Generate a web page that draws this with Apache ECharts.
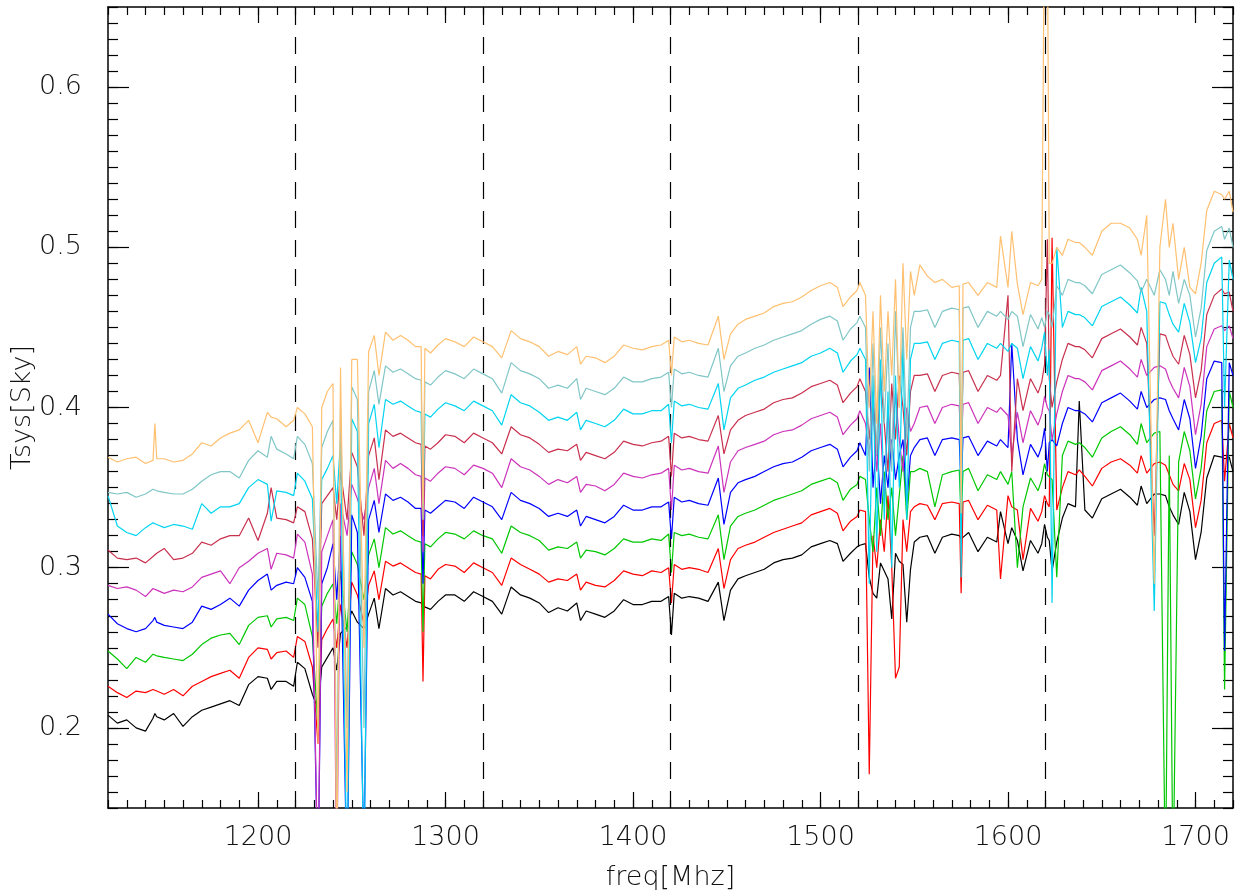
<!DOCTYPE html>
<html>
<head>
<meta charset="utf-8">
<script src="https://cdn.jsdelivr.net/npm/echarts@6/dist/echarts.min.js"></script>
<style>
html,body{margin:0;padding:0;background:#fff;}
#chart{width:1244px;height:896px;}
</style>
</head>
<body>
<div id="chart"></div>
<script>
// Frequency grid (MHz)
const freq = [
 1120,1125,1130,1135,1140,1144,1145,1146,1150,1155,1160,1165,1170,1175,1180,1185,1190,1195,1200,1205,1207,1210,1215,1219,1221,1225,1229,
 1232,1234,1237,1240,1242,1244,1247.5,1250,1253,1256.5,1259,1262,1264.5,
 1268,1272,1276,1280,1284,1287,1288,1289,1292,1296,1300,1305,1310,1315,1320,1325,1330,1335,1340,1345,1350,1355,1360,1365,1370,1372,1375,1380,1385,1390,1395,1400,1405,1410,1415,1419,
 1420.5,1422,1426,1430,1435,1440,1445.5,1448.5,1452,1456,1460,1465,1470,1475,1480,1485,1490,1495,1500,1505,1509,1512,1516,1519.5,1521,
 1524,1526,1528,1530,1532,1534,1536,1538,1540,1542,1544,1546,1548,1550,1553,1557,1561,1565,1570,1574,1575,1576,1579,1584,1589,1594,1596,
 1600,1602,1605,1608,1612,1616,1618,1619.5,1621,1622,1623.5,1626,1629,1632,1636,1638,1641,1645,1650,1655,1660,1665,1669,1671,1674,
 1678,1681,1684,1686,1688,1691,1694,1697,1700,1703,1706,1710,1714,1715.5,1718,1720
];

const black = [
 0.208,0.203,0.205,0.200,0.198,0.206,0.209,0.207,0.205,0.209,0.201,0.207,0.211,0.213,0.215,0.217,0.214,0.227,0.232,0.231,0.224,0.229,0.229,0.226,0.241,0.237,0.221,
 0.212,0.238,0.244,0.250,0.236,0.259,0.263,0.273,0.266,0.262,0.271,0.281,0.262,
 0.287,0.283,0.285,0.282,0.279,0.278,0.276,0.276,0.274,0.279,0.283,0.283,0.279,0.285,0.282,0.279,0.271,0.288,0.283,0.281,0.278,0.272,0.275,0.273,0.278,0.267,0.273,0.271,0.269,0.273,0.280,0.277,0.277,0.279,0.279,0.282,
 0.258,0.284,0.281,0.282,0.281,0.279,0.291,0.267,0.286,0.293,0.295,0.297,0.299,0.303,0.305,0.306,0.308,0.313,0.315,0.317,0.315,0.304,0.309,0.313,0.314,
 0.315,0.294,0.284,0.281,0.303,0.298,0.293,0.268,0.309,0.304,0.302,0.266,0.299,0.316,0.319,0.320,0.309,0.319,0.321,0.320,0.318,0.319,0.322,0.310,0.319,0.316,0.335,
 0.315,0.325,0.317,0.298,0.317,0.309,0.315,0.327,0.319,0.317,0.298,0.316,0.331,0.340,0.338,0.404,0.336,0.331,0.343,0.346,0.349,0.344,0.339,0.351,0.340,
 0.346,0.346,0.345,0.338,0.333,0.327,0.347,0.335,0.305,0.322,0.356,0.370,0.369,0.368,0.369,0.360
];
const red = [
 0.226,0.222,0.219,0.223,0.222,0.224,0.225,0.223,0.221,0.224,0.220,0.226,0.229,0.232,0.234,0.236,0.231,0.244,0.250,0.249,0.243,0.247,0.248,0.244,0.257,0.254,0.238,
 0.190,0.255,0.262,0.268,0.250,0.277,0.250,0.291,0.283,0.265,0.289,0.298,0.280,
 0.304,0.301,0.303,0.300,0.297,0.296,0.229,0.295,0.293,0.299,0.302,0.301,0.297,0.303,0.300,0.297,0.289,0.306,0.302,0.299,0.296,0.291,0.293,0.292,0.296,0.286,0.291,0.289,0.288,0.292,0.298,0.296,0.295,0.298,0.297,0.300,
 0.278,0.302,0.299,0.300,0.299,0.297,0.312,0.287,0.305,0.312,0.314,0.316,0.319,0.322,0.324,0.326,0.328,0.333,0.335,0.337,0.334,0.323,0.329,0.332,0.336,
 0.335,0.171,0.320,0.300,0.330,0.310,0.345,0.300,0.231,0.238,0.330,0.310,0.335,0.338,0.340,0.339,0.330,0.340,0.341,0.340,0.284,0.341,0.342,0.330,0.339,0.336,0.293,
 0.345,0.338,0.336,0.305,0.337,0.329,0.335,0.345,0.340,0.338,0.506,0.336,0.350,0.360,0.358,0.361,0.357,0.351,0.362,0.366,0.368,0.364,0.359,0.370,0.359,
 0.365,0.366,0.364,0.358,0.352,0.348,0.365,0.355,0.325,0.342,0.378,0.390,0.392,0.354,0.390,0.381
];
const green = [
 0.248,0.243,0.237,0.244,0.241,0.246,0.247,0.245,0.244,0.243,0.242,0.246,0.252,0.256,0.258,0.259,0.252,0.264,0.269,0.270,0.263,0.268,0.269,0.267,0.281,0.277,0.257,
 0.200,0.276,0.284,0.290,0.265,0.298,0.260,0.310,0.302,0.280,0.308,0.318,0.300,
 0.325,0.321,0.323,0.320,0.317,0.316,0.260,0.315,0.313,0.318,0.322,0.321,0.318,0.323,0.320,0.318,0.309,0.326,0.322,0.320,0.317,0.311,0.313,0.312,0.316,0.306,0.311,0.310,0.308,0.312,0.318,0.316,0.316,0.318,0.317,0.321,
 0.297,0.322,0.320,0.321,0.319,0.318,0.333,0.305,0.326,0.332,0.334,0.336,0.339,0.342,0.344,0.346,0.348,0.352,0.354,0.356,0.353,0.342,0.349,0.352,0.357,
 0.355,0.330,0.310,0.350,0.320,0.360,0.330,0.350,0.320,0.345,0.370,0.330,0.360,0.360,0.362,0.360,0.338,0.358,0.360,0.361,0.330,0.360,0.362,0.348,0.358,0.355,0.360,
 0.352,0.360,0.300,0.338,0.356,0.348,0.355,0.365,0.358,0.357,0.355,0.294,0.370,0.379,0.377,0.378,0.375,0.369,0.381,0.385,0.388,0.383,0.377,0.390,0.378,
 0.384,0.385,0.100,0.370,0.100,0.366,0.385,0.373,0.343,0.362,0.398,0.410,0.411,0.224,0.410,0.400
];
const blue = [
 0.271,0.265,0.262,0.260,0.262,0.267,0.269,0.266,0.264,0.263,0.262,0.266,0.276,0.274,0.277,0.281,0.276,0.286,0.292,0.296,0.286,0.289,0.291,0.290,0.300,0.294,0.279,
 0.100,0.290,0.300,0.315,0.280,0.320,0.100,0.333,0.322,0.120,0.330,0.342,0.322,
 0.346,0.342,0.344,0.341,0.337,0.337,0.290,0.336,0.334,0.338,0.342,0.341,0.337,0.344,0.341,0.338,0.330,0.347,0.342,0.340,0.337,0.332,0.334,0.332,0.336,0.326,0.332,0.330,0.328,0.332,0.339,0.336,0.336,0.338,0.338,0.341,
 0.318,0.344,0.341,0.342,0.340,0.339,0.356,0.327,0.347,0.353,0.355,0.357,0.360,0.363,0.365,0.366,0.369,0.373,0.375,0.377,0.374,0.363,0.369,0.373,0.378,
 0.370,0.425,0.350,0.380,0.340,0.370,0.350,0.380,0.355,0.370,0.380,0.340,0.370,0.375,0.380,0.381,0.370,0.380,0.381,0.380,0.350,0.381,0.382,0.370,0.379,0.376,0.380,
 0.375,0.440,0.380,0.358,0.377,0.369,0.376,0.387,0.360,0.378,0.380,0.376,0.390,0.400,0.398,0.398,0.396,0.391,0.403,0.406,0.409,0.404,0.399,0.410,0.400,
 0.405,0.406,0.405,0.398,0.393,0.386,0.405,0.393,0.362,0.382,0.418,0.429,0.428,0.248,0.428,0.420
];
const magenta = [
 0.289,0.287,0.288,0.286,0.282,0.287,0.288,0.286,0.284,0.286,0.285,0.288,0.294,0.296,0.298,0.290,0.300,0.304,0.309,0.312,0.299,0.309,0.308,0.306,0.321,0.316,0.296,
 0.100,0.310,0.320,0.330,0.100,0.340,0.320,0.352,0.343,0.330,0.350,0.362,0.340,
 0.367,0.362,0.365,0.362,0.358,0.357,0.310,0.356,0.354,0.359,0.363,0.362,0.358,0.364,0.362,0.359,0.350,0.368,0.363,0.361,0.357,0.352,0.355,0.353,0.357,0.347,0.352,0.351,0.348,0.352,0.359,0.357,0.356,0.358,0.359,0.362,
 0.336,0.364,0.361,0.362,0.360,0.359,0.376,0.347,0.366,0.373,0.375,0.377,0.379,0.383,0.385,0.386,0.389,0.393,0.395,0.397,0.394,0.383,0.389,0.393,0.398,
 0.390,0.370,0.400,0.360,0.390,0.340,0.400,0.370,0.410,0.380,0.360,0.400,0.385,0.390,0.400,0.401,0.390,0.400,0.402,0.401,0.370,0.402,0.403,0.390,0.400,0.397,0.400,
 0.395,0.370,0.397,0.378,0.398,0.389,0.396,0.407,0.400,0.398,0.380,0.396,0.410,0.420,0.418,0.418,0.416,0.411,0.423,0.426,0.429,0.424,0.419,0.430,0.420,
 0.425,0.426,0.424,0.417,0.412,0.406,0.425,0.413,0.383,0.402,0.438,0.449,0.451,0.448,0.451,0.443
];
const crimson = [
 0.311,0.306,0.305,0.306,0.303,0.307,0.308,0.309,0.312,0.305,0.306,0.309,0.316,0.314,0.318,0.320,0.320,0.331,0.317,0.334,0.350,0.331,0.330,0.328,0.338,0.335,0.318,
 0.250,0.340,0.345,0.350,0.330,0.360,0.330,0.372,0.363,0.320,0.370,0.381,0.355,
 0.386,0.382,0.384,0.381,0.378,0.377,0.320,0.376,0.374,0.378,0.383,0.382,0.378,0.384,0.381,0.378,0.371,0.388,0.383,0.381,0.377,0.372,0.374,0.373,0.377,0.367,0.372,0.370,0.368,0.372,0.379,0.377,0.376,0.378,0.379,0.382,
 0.357,0.384,0.381,0.382,0.380,0.379,0.395,0.371,0.386,0.392,0.395,0.397,0.399,0.403,0.405,0.406,0.409,0.413,0.415,0.417,0.414,0.403,0.409,0.413,0.418,
 0.410,0.380,0.410,0.370,0.420,0.390,0.360,0.415,0.380,0.420,0.400,0.370,0.410,0.420,0.420,0.421,0.410,0.420,0.422,0.421,0.370,0.422,0.423,0.410,0.420,0.417,0.420,
 0.470,0.360,0.418,0.398,0.418,0.409,0.416,0.427,0.505,0.418,0.400,0.416,0.430,0.440,0.438,0.438,0.436,0.431,0.443,0.446,0.449,0.444,0.439,0.450,0.440,
 0.320,0.446,0.445,0.438,0.432,0.427,0.445,0.433,0.406,0.423,0.458,0.470,0.474,0.471,0.472,0.460
];
const cyan = [
 0.345,0.326,0.322,0.320,0.325,0.328,0.329,0.327,0.325,0.327,0.326,0.324,0.340,0.334,0.338,0.338,0.340,0.350,0.355,0.352,0.329,0.348,0.347,0.345,0.359,0.354,0.343,
 0.260,0.355,0.362,0.370,0.340,0.380,0.100,0.393,0.385,0.100,0.390,0.402,0.375,
 0.405,0.402,0.404,0.401,0.398,0.397,0.330,0.396,0.394,0.399,0.403,0.401,0.398,0.404,0.401,0.398,0.389,0.408,0.403,0.401,0.397,0.392,0.394,0.392,0.397,0.386,0.392,0.390,0.388,0.392,0.399,0.396,0.396,0.398,0.398,0.402,
 0.378,0.404,0.401,0.402,0.400,0.399,0.415,0.386,0.406,0.412,0.414,0.417,0.419,0.422,0.424,0.426,0.428,0.432,0.434,0.437,0.434,0.422,0.429,0.433,0.437,
 0.430,0.290,0.420,0.310,0.430,0.330,0.410,0.300,0.420,0.350,0.440,0.330,0.430,0.440,0.440,0.441,0.430,0.440,0.442,0.441,0.294,0.442,0.443,0.430,0.440,0.437,0.440,
 0.435,0.440,0.437,0.418,0.438,0.429,0.437,0.447,0.420,0.436,0.278,0.500,0.450,0.460,0.458,0.458,0.456,0.451,0.463,0.466,0.469,0.464,0.459,0.475,0.460,
 0.273,0.466,0.465,0.458,0.452,0.447,0.465,0.453,0.428,0.443,0.478,0.490,0.494,0.400,0.492,0.480
];
const teal = [
 0.347,0.346,0.347,0.344,0.346,0.349,0.350,0.348,0.347,0.346,0.346,0.349,0.354,0.358,0.360,0.360,0.356,0.367,0.373,0.369,0.382,0.374,0.371,0.368,0.382,0.377,0.365,
 0.280,0.375,0.385,0.392,0.150,0.400,0.200,0.413,0.405,0.200,0.410,0.423,0.402,
 0.426,0.422,0.424,0.421,0.418,0.417,0.340,0.416,0.414,0.419,0.423,0.421,0.418,0.424,0.421,0.418,0.409,0.428,0.423,0.421,0.418,0.412,0.414,0.412,0.418,0.405,0.412,0.410,0.408,0.412,0.419,0.416,0.416,0.418,0.419,0.422,
 0.400,0.424,0.421,0.422,0.420,0.419,0.437,0.410,0.426,0.432,0.434,0.437,0.439,0.442,0.444,0.446,0.448,0.452,0.455,0.457,0.454,0.442,0.449,0.453,0.457,
 0.450,0.360,0.440,0.370,0.450,0.390,0.440,0.360,0.460,0.400,0.450,0.380,0.450,0.460,0.460,0.461,0.450,0.460,0.462,0.461,0.350,0.462,0.463,0.450,0.460,0.457,0.460,
 0.455,0.460,0.457,0.438,0.458,0.449,0.456,0.450,0.460,0.458,0.450,0.476,0.470,0.480,0.478,0.478,0.476,0.471,0.483,0.486,0.489,0.484,0.479,0.472,0.480,
 0.470,0.486,0.480,0.470,0.485,0.465,0.480,0.470,0.444,0.462,0.498,0.510,0.513,0.505,0.512,0.500
];
const orange = [
 0.369,0.366,0.368,0.369,0.365,0.367,0.390,0.368,0.368,0.366,0.367,0.371,0.378,0.376,0.381,0.384,0.386,0.392,0.378,0.397,0.394,0.393,0.388,0.392,0.400,0.396,0.388,
 0.190,0.400,0.410,0.415,0.100,0.425,0.160,0.430,0.430,0.250,0.435,0.445,0.420,
 0.447,0.442,0.445,0.442,0.438,0.438,0.330,0.437,0.434,0.439,0.443,0.441,0.438,0.444,0.441,0.438,0.431,0.448,0.443,0.441,0.438,0.432,0.435,0.433,0.438,0.427,0.432,0.431,0.428,0.432,0.439,0.437,0.436,0.438,0.439,0.442,
 0.420,0.444,0.441,0.442,0.440,0.439,0.457,0.430,0.446,0.452,0.455,0.457,0.459,0.463,0.465,0.466,0.469,0.473,0.476,0.478,0.475,0.463,0.469,0.473,0.478,
 0.470,0.400,0.460,0.390,0.470,0.410,0.460,0.420,0.480,0.400,0.490,0.430,0.485,0.470,0.489,0.482,0.478,0.480,0.475,0.476,0.334,0.477,0.478,0.470,0.478,0.475,0.507,
 0.475,0.510,0.477,0.458,0.478,0.476,0.480,0.720,0.700,0.490,0.490,0.500,0.495,0.505,0.503,0.503,0.500,0.495,0.510,0.515,0.515,0.512,0.505,0.495,0.520,
 0.290,0.500,0.530,0.500,0.515,0.480,0.500,0.475,0.471,0.490,0.523,0.535,0.533,0.530,0.535,0.522
];

const dashedFreqs = [1220, 1320, 1420, 1520, 1620];
const xMajor = [1200, 1300, 1400, 1500, 1600, 1700];
const yMajor = [0.2, 0.3, 0.4, 0.5, 0.6];

const seriesList = [
  [black, '#000000'], [red, '#ff0000'], [green, '#00c800'], [blue, '#0000ff'],
  [magenta, '#cc33bb'], [crimson, '#c8304e'], [cyan, '#00d4f0'], [teal, '#80c6c6'], [orange, '#ffc070']
];

const FONT = 'DejaVu Sans';
const txt = {fontFamily: FONT, fontSize: 27, fontWeight: 200, color: '#111'};

const chart = echarts.init(document.getElementById('chart'), null, {renderer: 'canvas'});

function xAx(pos, major, labels) {
  const a = {
    type: 'value', min: 1120, max: 1720, position: pos,
    axisLine: {show: !major, lineStyle: {color: '#000', width: 1.5}},
    splitLine: {show: false},
    axisTick: {show: true, inside: true, length: major ? 16 : 8, lineStyle: {color: '#000', width: 1.2}},
    axisLabel: {show: false}
  };
  if (major) {
    a.axisTick.customValues = xMajor;
    a.axisLabel = labels ? Object.assign({show: true, customValues: xMajor, margin: 16,
      formatter: v => String(Math.round(v))}, txt) : {show: false};
    if (labels) {
      a.name = 'freq[Mhz]';
      a.nameLocation = 'middle';
      a.nameGap = 56;
      a.nameMoveOverlap = false;
      a.nameTextStyle = Object.assign({}, txt);
    }
  } else {
    a.interval = 10;
  }
  return a;
}
function yAx(pos, major, labels) {
  const a = {
    type: 'value', min: 0.15, max: 0.65, position: pos,
    axisLine: {show: !major, lineStyle: {color: '#000', width: 1.5}},
    splitLine: {show: false},
    axisTick: {show: true, inside: true, length: major ? 21 : 10, lineStyle: {color: '#000', width: 1.2}},
    axisLabel: {show: false}
  };
  if (major) {
    a.axisTick.customValues = yMajor;
    a.axisLabel = labels ? Object.assign({show: true, customValues: yMajor, margin: 26,
      formatter: v => Number(v).toFixed(1)}, txt) : {show: false};
    if (labels) {
      a.name = 'Tsys[Sky]';
      a.nameLocation = 'middle';
      a.nameGap = 72;
      a.nameMoveOverlap = false;
      a.nameTextStyle = Object.assign({}, txt);
    }
  } else {
    a.interval = 0.01;
  }
  return a;
}

const series = seriesList.map(([vals, color], k) => ({
  type: 'line',
  xAxisIndex: 0, yAxisIndex: 0,
  data: freq.map((f, i) => [f, vals[i]]),
  showSymbol: false, symbol: 'none',
  lineStyle: {color: color, width: 1.2},
  itemStyle: {color: color},
  clip: true, silent: true, animation: false,
  z: 2 + k
}));
series.push({
  type: 'line', xAxisIndex: 0, yAxisIndex: 0, data: [], silent: true, animation: false,
  markLine: {
    silent: true, symbol: ['none', 'none'], label: {show: false}, animation: false,
    lineStyle: {color: '#000', width: 1.2, type: [17, 12]},
    data: dashedFreqs.map(f => ({xAxis: f}))
  },
  z: 20
});

chart.setOption({
  backgroundColor: '#ffffff',
  animation: false,
  grid: {left: 108, right: 11, top: 7, bottom: 88, containLabel: false, outerBoundsMode: 'none'},
  xAxis: [xAx('bottom', false, false), xAx('bottom', true, true), xAx('top', false, false), xAx('top', true, false)],
  yAxis: [yAx('left', false, false), yAx('left', true, true), yAx('right', false, false), yAx('right', true, false)],
  series: series
});
</script>
</body>
</html>
